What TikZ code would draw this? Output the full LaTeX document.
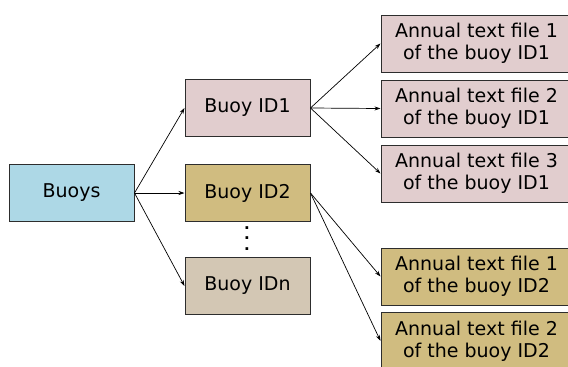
\documentclass[tikz,border=0pt]{standalone}
\usepackage{fontspec}
\setmainfont{DejaVu Sans}
\usetikzlibrary{arrows.meta}
\definecolor{buoyblue}{RGB}{173,216,230}
\definecolor{idonepink}{RGB}{225,205,206}
\definecolor{idtwotan}{RGB}{208,188,128}
\definecolor{idnbeige}{RGB}{211,199,180}
\definecolor{boxline}{RGB}{45,45,45}
\begin{document}
\begin{tikzpicture}[x=1pt, y=-1pt,
    buoybox/.style={rectangle, draw=boxline, line width=1pt, minimum width=125pt, minimum height=57pt, inner sep=0pt, font=\fontsize{19}{22}\selectfont},
    filebox/.style={buoybox, minimum width=191pt, align=center},
    link/.style={-{Stealth[length=6pt, width=4pt]}, line width=0.7pt}]
\useasboundingbox (0,0) rectangle (568,367);

\node[buoybox, fill=buoyblue] (B)  at (71.5,193) {Buoys};
\node[buoybox, fill=idonepink] (I1) at (247.5,108) {Buoy ID1};
\node[buoybox, fill=idtwotan] (I2) at (247.5,193) {Buoy ID2};
\node[buoybox, fill=idnbeige] (In) at (247.5,286) {Buoy IDn};
\node[font=\fontsize{15}{10.5}\selectfont\bfseries, align=center, inner sep=0pt] (dots) at (247,238.5) {.\\.\\.};

\node[filebox, fill=idonepink] (F11) at (476.5,43.5) {Annual text file 1\\of the buoy ID1};
\node[filebox, fill=idonepink] (F12) at (476.5,108.5) {Annual text file 2\\of the buoy ID1};
\node[filebox, fill=idonepink] (F13) at (476.5,173.5) {Annual text file 3\\of the buoy ID1};
\node[filebox, fill=idtwotan] (F21) at (476.5,276.5) {Annual text file 1\\of the buoy ID2};
\node[filebox, fill=idtwotan] (F22) at (476.5,341) {Annual text file 2\\of the buoy ID2};

\draw[link] (B.east) -- (I1.west);
\draw[link] (B.east) -- (I2.west);
\draw[link] (B.east) -- (In.west);
\draw[link] (I1.east) -- (F11.west);
\draw[link] (I1.east) -- (F12.west);
\draw[link] (I1.east) -- (F13.west);
\draw[link] (I2.east) -- (F21.west);
\draw[link] (I2.east) -- (F22.west);
\end{tikzpicture}
\end{document}
